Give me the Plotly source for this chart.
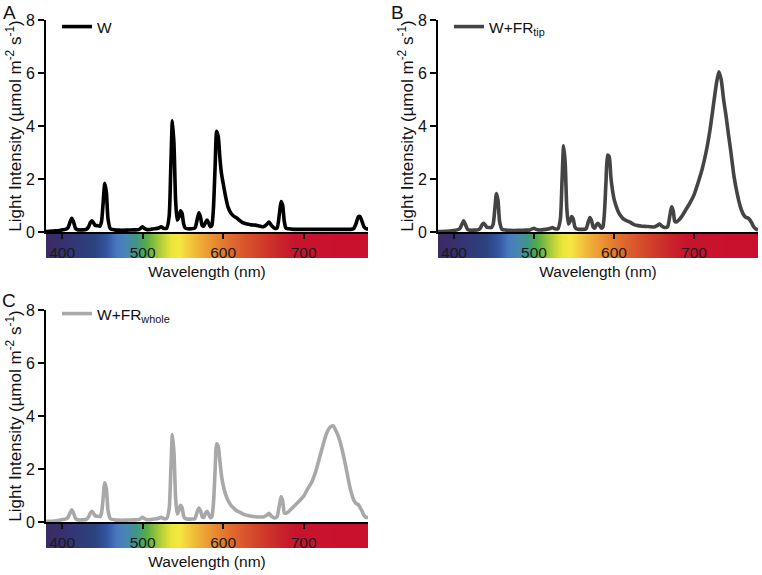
import plotly.graph_objects as go

# ---------------- data ----------------
wavelength = [380, 385, 390, 395, 400, 404, 407, 410, 412, 414, 417, 420, 425, 430, 433, 435, 437, 439,
              441, 444, 447, 449, 451, 453, 455, 457, 460, 465, 470, 480, 490, 495, 498, 500, 502, 505,
              510, 515, 520, 523, 526, 530, 533, 535, 537, 539, 541, 543, 545, 547, 549, 551, 553, 556,
              560, 565, 568, 570, 572, 574, 576, 578, 580, 582, 584, 586, 588, 590, 592, 594, 596, 598,
              600, 603, 606, 610, 614, 617, 620, 625, 630, 635, 640, 645, 650, 654, 657, 660, 664, 667,
              670, 672, 674, 676, 678, 681, 685, 690, 695, 700, 705, 710, 715, 720, 725, 728, 731, 734,
              737, 740, 743, 746, 750, 754, 758, 762, 765, 768, 770, 772, 775, 778, 780]

w = [0.02, 0.03, 0.04, 0.05, 0.08, 0.10, 0.15, 0.38, 0.52, 0.40, 0.12, 0.08, 0.08, 0.10, 0.20, 0.35, 0.42, 0.35,
     0.25, 0.24, 0.22, 0.40, 1.10, 1.84, 1.50, 0.50, 0.12, 0.08, 0.07, 0.07, 0.08, 0.09, 0.15, 0.20, 0.14, 0.09,
     0.10, 0.12, 0.15, 0.20, 0.14, 0.15, 0.60, 2.40, 4.20, 3.30, 1.20, 0.45, 0.55, 0.80, 0.70, 0.30, 0.15, 0.12,
     0.12, 0.15, 0.50, 0.72, 0.55, 0.25, 0.22, 0.35, 0.45, 0.35, 0.20, 0.25, 0.90, 2.40, 3.80, 3.60, 2.80, 2.20,
     1.85, 1.35, 0.95, 0.70, 0.58, 0.53, 0.45, 0.34, 0.30, 0.27, 0.26, 0.23, 0.20, 0.28, 0.38, 0.25, 0.14, 0.15,
     0.70, 1.15, 1.00, 0.40, 0.15, 0.12, 0.11, 0.10, 0.10, 0.10, 0.10, 0.10, 0.10, 0.10, 0.10, 0.10, 0.10, 0.10,
     0.10, 0.10, 0.10, 0.10, 0.10, 0.10, 0.10, 0.12, 0.30, 0.58, 0.58, 0.45, 0.20, 0.12, 0.12]

w_fr_tip = [0.02, 0.02, 0.03, 0.04, 0.06, 0.08, 0.12, 0.30, 0.42, 0.30, 0.10, 0.07, 0.07, 0.08, 0.15, 0.27, 0.33, 0.27,
            0.18, 0.17, 0.17, 0.30, 0.85, 1.45, 1.20, 0.40, 0.10, 0.07, 0.06, 0.06, 0.07, 0.08, 0.12, 0.14, 0.11, 0.08,
            0.08, 0.10, 0.13, 0.17, 0.12, 0.13, 0.50, 1.90, 3.25, 2.60, 0.90, 0.30, 0.40, 0.58, 0.50, 0.20, 0.12, 0.10,
            0.10, 0.12, 0.40, 0.55, 0.42, 0.18, 0.15, 0.27, 0.33, 0.25, 0.15, 0.18, 0.70, 1.90, 2.90, 2.85, 2.10, 1.60,
            1.25, 0.95, 0.72, 0.55, 0.45, 0.41, 0.37, 0.28, 0.24, 0.22, 0.21, 0.20, 0.19, 0.24, 0.30, 0.22, 0.17, 0.20,
            0.65, 0.95, 0.80, 0.40, 0.38, 0.45, 0.60, 0.85, 1.10, 1.40, 1.85, 2.35, 3.00, 3.85, 4.95, 5.60, 6.05, 5.75,
            5.00, 4.40, 3.70, 3.05, 2.10, 1.45, 0.95, 0.65, 0.55, 0.52, 0.45, 0.35, 0.18, 0.10, 0.08]

w_fr_whole = [0.03, 0.03, 0.04, 0.06, 0.09, 0.11, 0.16, 0.35, 0.46, 0.35, 0.12, 0.08, 0.08, 0.10, 0.20, 0.33, 0.40, 0.33,
              0.23, 0.22, 0.20, 0.35, 0.90, 1.48, 1.25, 0.45, 0.12, 0.08, 0.07, 0.07, 0.08, 0.09, 0.14, 0.18, 0.13, 0.09,
              0.09, 0.11, 0.14, 0.18, 0.13, 0.14, 0.50, 1.90, 3.30, 2.60, 0.90, 0.30, 0.42, 0.63, 0.55, 0.22, 0.13, 0.11,
              0.11, 0.13, 0.40, 0.53, 0.42, 0.20, 0.18, 0.32, 0.40, 0.30, 0.17, 0.20, 0.70, 1.90, 2.95, 2.85, 2.30, 1.75,
              1.40, 1.05, 0.82, 0.62, 0.50, 0.42, 0.38, 0.30, 0.25, 0.22, 0.20, 0.19, 0.19, 0.25, 0.33, 0.22, 0.15, 0.20,
              0.65, 0.95, 0.80, 0.35, 0.33, 0.38, 0.50, 0.65, 0.80, 0.97, 1.25, 1.50, 1.90, 2.45, 3.00, 3.30, 3.50, 3.60,
              3.63, 3.45, 3.25, 2.95, 2.45, 1.85, 1.25, 0.85, 0.70, 0.66, 0.55, 0.45, 0.25, 0.17, 0.17]

series_names = ["W", "W+FR<sub>tip</sub>", "W+FR<sub>whole</sub>"]
series_colors = ["#000000", "#444444", "#a8a8a8"]
panel_letters = ["A", "B", "C"]

x_ticks = [400, 500, 600, 700]
y_ticks = [0, 2, 4, 6, 8]

# visible-spectrum colour bar (wavelength -> colour)
spectrum_nm = [380, 400, 420, 440, 455, 468, 480, 492, 505, 520, 535, 545, 555, 570, 590, 610, 630, 650, 670, 690, 780]
spectrum_colors = ["#3b2b63", "#382f6e", "#313a78", "#2b427d", "#3454a0", "#4778c0", "#4a86b0", "#3f9585",
                   "#56ad45", "#a6c93a", "#e9e43a", "#f6e840", "#f3d03c", "#eeb037", "#e78a31", "#e06a2e",
                   "#d8512c", "#d03b2b", "#c9252c", "#c8132e", "#c9102e"]
bar_nm = list(range(380, 781))

# ---------------- layout geometry (window pixels) ----------------
W_PX, H_PX = 762, 575
FONT = "Liberation Sans, Arial, Helvetica, sans-serif"
panels = [  # plot area x0, x1, y_top, y_bottom, colour-bar bottom (window pixels)
    dict(x0=46, x1=368, yt=20, yb=232, bb=258, lx=57, ly=10, letter_x=9, letter_y=12),
    dict(x0=438, x1=758, yt=20, yb=232, bb=258, lx=449, ly=10, letter_x=397, letter_y=12),
    dict(x0=46, x1=368, yt=310, yb=522, bb=548, lx=57, ly=297, letter_x=9, letter_y=300),
]


def px_x(v):
    return v / W_PX


def px_y(v):
    return 1 - v / H_PX


spectra = [w, w_fr_tip, w_fr_whole]
colorscale = [[(nm - spectrum_nm[0]) / (spectrum_nm[-1] - spectrum_nm[0]), c]
              for nm, c in zip(spectrum_nm, spectrum_colors)]

fig = go.Figure()
layout = dict(
    template="none",
    width=W_PX, height=H_PX,
    margin=dict(l=0, r=0, t=0, b=0, pad=0, autoexpand=False),
    paper_bgcolor="white", plot_bgcolor="rgba(0,0,0,0)",
    font=dict(family=FONT, size=15.5, color="#111111"),
    showlegend=True,
    annotations=[],
)

# colour bars first (axes 1-3) so the spectra axes' tick labels are drawn on top
for i, p in enumerate(panels):
    n = i + 1
    sfx = "" if n == 1 else str(n)
    fig.add_trace(go.Heatmap(
        x=bar_nm, y=[0, 1], z=[bar_nm, bar_nm], colorscale=colorscale,
        zmin=spectrum_nm[0], zmax=spectrum_nm[-1], showscale=False, hoverinfo="skip",
        xaxis="x" + sfx, yaxis="y" + sfx, showlegend=False))
    layout["xaxis" + sfx] = dict(
        domain=[px_x(p["x0"]), px_x(p["x1"])], anchor="y" + sfx, range=[380, 780],
        showticklabels=False, ticks="", showline=False, showgrid=False, zeroline=False,
        automargin=False,
        title=dict(text="Wavelength (nm)", font=dict(size=15.5, family=FONT, color="#111111"), standoff=8),
        fixedrange=True)
    layout["yaxis" + sfx] = dict(
        domain=[px_y(p["bb"]), px_y(p["yb"] + 0.5)], anchor="x" + sfx, range=[-0.5, 1.5],
        visible=False, automargin=False, fixedrange=True)

# spectra (axes 4-6)
for i, p in enumerate(panels):
    n = i + 4
    sfx = str(n)
    leg = "legend" if i == 0 else "legend" + str(i + 1)
    fig.add_trace(go.Scatter(
        x=wavelength, y=spectra[i], mode="lines", name=series_names[i],
        line=dict(color=series_colors[i], width=3.6, shape="spline", smoothing=0.6),
        xaxis="x" + sfx, yaxis="y" + sfx, legend=leg))
    layout["xaxis" + sfx] = dict(
        domain=[px_x(p["x0"]), px_x(p["x1"])], anchor="y" + sfx, range=[380, 780],
        tickmode="array", tickvals=x_ticks, ticktext=[str(t) for t in x_ticks],
        ticks="outside", ticklen=5, tickwidth=1.5, tickcolor="#111111",
        tickfont=dict(size=15.5, family=FONT, color="#1a1a1a"),
        showline=True, linecolor="#000000", linewidth=2, showgrid=False, zeroline=False,
        automargin=False, fixedrange=True)
    layout["yaxis" + sfx] = dict(
        domain=[px_y(p["yb"]), px_y(p["yt"])], anchor="x" + sfx, range=[0, 8],
        tickmode="array", tickvals=y_ticks, ticktext=[str(t) for t in y_ticks],
        ticks="outside", ticklen=6, tickwidth=1.5, tickcolor="#000000",
        tickfont=dict(size=16, family=FONT, color="#111111"),
        showline=True, linecolor="#000000", linewidth=2, showgrid=False, zeroline=False,
        automargin=False,
        title=dict(text="Light Intensity (\u00b5mol m<sup>-2</sup> s<sup>-1</sup>)",
                   font=dict(size=17, family=FONT, color="#111111"), standoff=0),
        fixedrange=True)
    layout[leg] = dict(
        x=px_x(p["lx"]), y=px_y(p["ly"]), xanchor="left", yanchor="top",
        bgcolor="rgba(0,0,0,0)", borderwidth=0,
        font=dict(size=15.5, family=FONT, color="#111111"))
    layout["annotations"].append(dict(
        text=panel_letters[i], x=px_x(p["letter_x"]), y=px_y(p["letter_y"]),
        xref="paper", yref="paper", xanchor="center", yanchor="middle",
        showarrow=False, font=dict(size=19, family=FONT, color="#111111")))

fig.update_layout(**layout)
# remove the browser's default page margin so the figure fills the window exactly
fig.write_html("out.html",
               config=dict(displayModeBar=False, staticPlot=False),
               post_script="document.body.style.margin='0';document.body.style.overflow='hidden';")
